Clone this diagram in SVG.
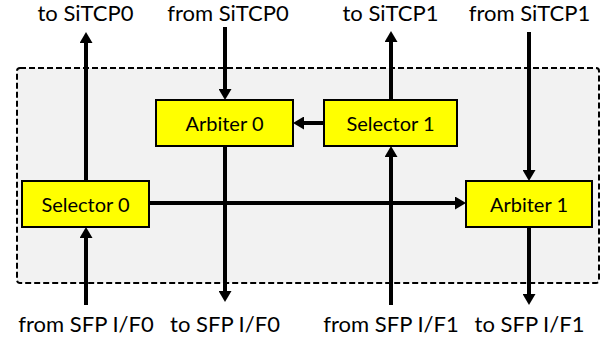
<svg xmlns="http://www.w3.org/2000/svg" width="610" height="339" viewBox="0 0 610 339">
<defs>
<style>
.lbl{font-family:Lato,"Open Sans","Liberation Sans",sans-serif;font-size:22px;fill:#000;text-anchor:middle}
.nl{font-family:Lato,"Open Sans","Liberation Sans",sans-serif;font-size:20px;fill:#000;text-anchor:middle}
.box{fill:#ffff00;stroke:#000;stroke-width:2}
.c{stroke:#000;stroke-width:4;fill:none;marker-end:url(#ah)}
</style>
<marker id="ah" markerUnits="userSpaceOnUse" markerWidth="11" markerHeight="13" refX="0" refY="6.5" orient="auto" viewBox="0 0 11 13">
<path d="M0,0 L11,6.5 L0,13 z" fill="#000"/>
</marker>
</defs>
<rect x="0" y="0" width="610" height="339" fill="#fff"/>
<rect id="frame" x="17" y="68" width="582" height="215" rx="3" fill="#f2f2f2" stroke="#000" stroke-width="2" stroke-dasharray="6,3"/>
<g id="connectors">
<line class="c" x1="86" y1="181" x2="86" y2="43"/>
<line class="c" x1="225" y1="27" x2="225" y2="89"/>
<line class="c" x1="225" y1="146" x2="225" y2="291"/>
<line class="c" x1="391" y1="100" x2="391" y2="42"/>
<line class="c" x1="391" y1="305" x2="391" y2="157"/>
<line class="c" x1="529" y1="32" x2="529" y2="170"/>
<line class="c" x1="529" y1="227" x2="529" y2="294"/>
<line class="c" x1="86" y1="305" x2="86" y2="238"/>
<line class="c" x1="149" y1="203" x2="455" y2="203"/>
<line class="c" x1="324" y1="123" x2="304" y2="123"/>
</g>
<g id="arbiter0"><rect class="box" x="156" y="100" width="137" height="46"/><text class="nl" x="224.5" y="131">Arbiter 0</text></g>
<g id="selector1"><rect class="box" x="324" y="100" width="133" height="46"/><text class="nl" x="390.5" y="131">Selector 1</text></g>
<g id="selector0"><rect class="box" x="22" y="181" width="127" height="46"/><text class="nl" x="85.5" y="212">Selector 0</text></g>
<g id="arbiter1"><rect class="box" x="466" y="181" width="126" height="46"/><text class="nl" x="529" y="212">Arbiter 1</text></g>
<g id="labels">
<text class="lbl" x="85.5" y="21">to SiTCP0</text>
<text class="lbl" x="228" y="21">from SiTCP0</text>
<text class="lbl" x="390.5" y="21">to SiTCP1</text>
<text class="lbl" x="529.5" y="21">from SiTCP1</text>
<text class="lbl" x="86" y="332">from SFP I/F0</text>
<text class="lbl" x="225" y="332">to SFP I/F0</text>
<text class="lbl" x="391" y="332">from SFP I/F1</text>
<text class="lbl" x="529.5" y="332">to SFP I/F1</text>
</g>
</svg>
